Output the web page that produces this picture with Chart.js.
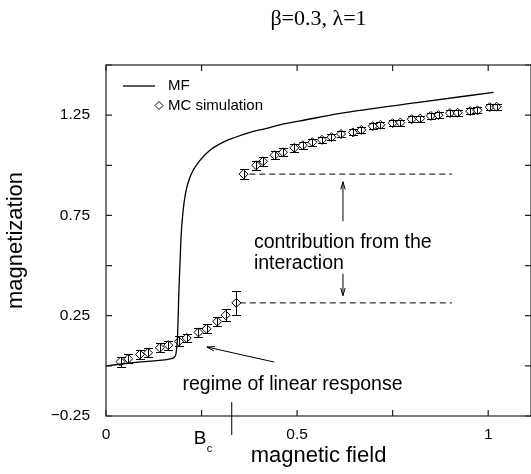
<!DOCTYPE html>
<html>
<head>
<meta charset="utf-8">
<script src="https://cdn.jsdelivr.net/npm/chart.js@4.4.1/dist/chart.umd.min.js"></script>
<style>
  html, body { margin: 0; padding: 0; background: #fff; }
</style>
</head>
<body>
<canvas id="myChart" width="531" height="474"></canvas>
<script>
// mean field curve
const mfField = [0, 0.09, 0.168, 0.178, 0.183, 0.187, 0.191, 0.196, 0.201, 0.208, 0.22, 0.246, 0.272, 0.298, 0.333, 0.377, 0.42, 0.455, 0.508, 0.613, 0.813, 1.014];
const mfMag   = [0, 0.02, 0.035, 0.042, 0.06, 0.14, 0.385, 0.63, 0.76, 0.86, 0.943, 1.025, 1.075, 1.107, 1.136, 1.164, 1.184, 1.202, 1.221, 1.259, 1.312, 1.364];

// Monte Carlo points with error bars
const mcField = [0.038, 0.058, 0.089, 0.11, 0.141, 0.163, 0.191, 0.211, 0.242, 0.263, 0.291, 0.313, 0.341,
                 0.36, 0.393, 0.411, 0.441, 0.463, 0.493, 0.515, 0.54, 0.565, 0.59, 0.615, 0.646, 0.668, 0.698,
                 0.718, 0.75, 0.77, 0.8, 0.822, 0.85, 0.87, 0.9, 0.92, 0.953, 0.972, 1.004, 1.022];
const mcMag   = [0.021, 0.035, 0.057, 0.065, 0.09, 0.103, 0.122, 0.139, 0.167, 0.185, 0.221, 0.253, 0.314,
                 0.956, 1.0, 1.02, 1.05, 1.065, 1.087, 1.1, 1.115, 1.127, 1.14, 1.156, 1.164, 1.176, 1.195,
                 1.202, 1.21, 1.213, 1.23, 1.233, 1.246, 1.25, 1.26, 1.262, 1.27, 1.274, 1.29, 1.292];
const mcErr   = [0.025, 0.022, 0.022, 0.022, 0.022, 0.022, 0.025, 0.022, 0.022, 0.022, 0.022, 0.03, 0.058,
                 0.025, 0.022, 0.022, 0.02, 0.02, 0.02, 0.018, 0.018, 0.016, 0.016, 0.015, 0.015, 0.015, 0.015,
                 0.015, 0.015, 0.015, 0.015, 0.015, 0.015, 0.015, 0.015, 0.015, 0.015, 0.015, 0.015, 0.015];

// dashed reference levels
const upperDashField = [0.375, 0.905];
const upperDashMag = [0.956, 0.956];
const lowerDashField = [0.35, 0.905];
const lowerDashMag = [0.314, 0.314];

const xTicks = [0, 0.25, 0.5, 0.75, 1];
const xTickLabels = ["0", "", "0.5", "", "1"];
const yTicks = [-0.25, 0, 0.25, 0.5, 0.75, 1, 1.25, 1.5];
const yTickLabels = ["\u22120.25", "", "0.25", "", "0.75", "", "1.25", ""];
const bcField = 0.329;

const font = "'Liberation Sans', Arial, Helvetica, sans-serif";

function pts(xs, ys) { return xs.map((v, i) => ({ x: v, y: ys[i] })); }

function arrow(ctx, x1, y1, x2, y2) {
  const ang = Math.atan2(y2 - y1, x2 - x1), len = 8, sp = 0.28;
  ctx.beginPath();
  ctx.moveTo(x1, y1); ctx.lineTo(x2, y2);
  ctx.moveTo(x2 - len * Math.cos(ang - sp), y2 - len * Math.sin(ang - sp));
  ctx.lineTo(x2, y2);
  ctx.lineTo(x2 - len * Math.cos(ang + sp), y2 - len * Math.sin(ang + sp));
  ctx.stroke();
}

const decorations = {
  id: "decorations",
  afterDatasetsDraw(chart) {
    const { ctx, chartArea: a, scales: { x, y } } = chart;
    ctx.save();
    ctx.strokeStyle = "#000";
    ctx.fillStyle = "#000";
    ctx.lineWidth = 1;

    // error bars
    mcField.forEach((f, i) => {
      const px = Math.round(x.getPixelForValue(f)) + 0.5;
      const t = Math.round(y.getPixelForValue(mcMag[i] + mcErr[i])) + 0.5;
      const b = Math.round(y.getPixelForValue(mcMag[i] - mcErr[i])) + 0.5;
      ctx.beginPath();
      ctx.moveTo(px, t); ctx.lineTo(px, b);
      ctx.moveTo(px - 4.5, t); ctx.lineTo(px + 4.5, t);
      ctx.moveTo(px - 4.5, b); ctx.lineTo(px + 4.5, b);
      ctx.stroke();
    });

    // frame and inward ticks
    ctx.strokeStyle = "#222";
    ctx.lineWidth = 1.2;
    ctx.strokeRect(a.left, a.top, a.right - a.left, a.bottom - a.top);
    ctx.beginPath();
    xTicks.forEach(v => {
      const px = x.getPixelForValue(v);
      ctx.moveTo(px, a.bottom); ctx.lineTo(px, a.bottom - 6);
      ctx.moveTo(px, a.top); ctx.lineTo(px, a.top + 6);
    });
    yTicks.forEach(v => {
      const py = y.getPixelForValue(v);
      ctx.moveTo(a.left, py); ctx.lineTo(a.left + 6, py);
      ctx.moveTo(a.right, py); ctx.lineTo(a.right - 6, py);
    });
    ctx.stroke();

    // B_c marker
    ctx.strokeStyle = "#000";
    ctx.lineWidth = 1;
    const bx = x.getPixelForValue(bcField);
    ctx.beginPath();
    ctx.moveTo(bx, a.bottom - 14); ctx.lineTo(bx, a.bottom + 19);
    ctx.stroke();
    ctx.textBaseline = "middle";
    ctx.textAlign = "left";
    ctx.font = "19px " + font;
    ctx.fillText("B", bx - 38, a.bottom + 23);
    ctx.font = "11px " + font;
    ctx.fillText("c", bx - 25, a.bottom + 33);

    // annotations
    ctx.font = "19.5px " + font;
    ctx.fillText("contribution from the", x.getPixelForValue(0.387), y.getPixelForValue(0.616));
    ctx.fillText("interaction", x.getPixelForValue(0.387), y.getPixelForValue(0.508));
    ctx.textAlign = "center";
    ctx.fillText("regime of linear response", x.getPixelForValue(0.488), y.getPixelForValue(-0.093));

    arrow(ctx, x.getPixelForValue(0.62), y.getPixelForValue(0.721), x.getPixelForValue(0.62), y.getPixelForValue(0.918));
    arrow(ctx, x.getPixelForValue(0.62), y.getPixelForValue(0.459), x.getPixelForValue(0.62), y.getPixelForValue(0.35));
    arrow(ctx, x.getPixelForValue(0.44), y.getPixelForValue(0.019), x.getPixelForValue(0.264), y.getPixelForValue(0.094));

    // legend
    const lx = a.left, ly = a.top;
    ctx.lineWidth = 1.3;
    ctx.beginPath();
    ctx.moveTo(lx + 17, ly + 21); ctx.lineTo(lx + 49, ly + 21);
    ctx.stroke();
    ctx.lineWidth = 1;
    ctx.beginPath();
    ctx.moveTo(lx + 53, ly + 36.5); ctx.lineTo(lx + 57, ly + 40.5);
    ctx.lineTo(lx + 53, ly + 44.5); ctx.lineTo(lx + 49, ly + 40.5);
    ctx.closePath();
    ctx.stroke();
    ctx.textAlign = "left";
    ctx.font = "15px " + font;
    ctx.fillText("MF", lx + 62, ly + 21);
    ctx.fillText("MC simulation", lx + 62, ly + 41);
    ctx.restore();
  }
};

new Chart(document.getElementById("myChart"), {
  type: "scatter",
  data: {
    datasets: [
      {
        label: "MF",
        type: "line",
        data: pts(mfField, mfMag),
        borderColor: "#000",
        borderWidth: 1.3,
        pointRadius: 0,
        cubicInterpolationMode: "monotone",
        fill: false
      },
      {
        label: "MC simulation",
        data: pts(mcField, mcMag),
        pointStyle: "rectRot",
        pointRadius: 4.5,
        pointBorderWidth: 1,
        pointBorderColor: "#000",
        pointBackgroundColor: "rgba(255,255,255,0.6)"
      },
      {
        label: "upper level",
        type: "line",
        data: pts(upperDashField, upperDashMag),
        borderColor: "#000",
        borderWidth: 1,
        borderDash: [6, 4],
        pointRadius: 0
      },
      {
        label: "lower level",
        type: "line",
        data: pts(lowerDashField, lowerDashMag),
        borderColor: "#000",
        borderWidth: 1,
        borderDash: [6, 4],
        pointRadius: 0
      }
    ]
  },
  options: {
    responsive: false,
    animation: false,
    layout: { autoPadding: false, padding: { left: 0, right: -1, top: 0, bottom: 3 } },
    plugins: {
      legend: { display: false },
      tooltip: { enabled: false },
      title: {
        display: true,
        text: "\u03b2=0.3, \u03bb=1",
        fullSize: false,
        color: "#000",
        font: { family: "'Liberation Serif', 'Times New Roman', serif", size: 22, weight: "normal" },
        padding: { top: 6, bottom: 32.6 }
      }
    },
    scales: {
      x: {
        type: "linear",
        min: 0,
        max: 1.112,
        afterBuildTicks: s => { s.ticks = xTicks.map(v => ({ value: v })); },
        afterFit: s => { s.height = 55; s.paddingRight = 0; },
        grid: { display: false, drawTicks: false },
        border: { display: false },
        ticks: {
          padding: 9,
          color: "#000",
          font: { family: font, size: 15.5 },
          callback: (v, i) => xTickLabels[i]
        },
        title: {
          display: true,
          text: "magnetic field",
          color: "#000",
          font: { family: font, size: 22 },
          padding: { top: 0, bottom: 2 }
        }
      },
      y: {
        type: "linear",
        min: -0.25,
        max: 1.5,
        afterBuildTicks: s => { s.ticks = yTicks.map(v => ({ value: v })); },
        afterFit: s => { s.width = 106; s.paddingTop = 0; s.paddingBottom = 0; },
        grid: { display: false, drawTicks: false },
        border: { display: false },
        ticks: {
          padding: 16,
          color: "#000",
          font: { family: font, size: 15.5 },
          callback: (v, i) => yTickLabels[i]
        },
        title: {
          display: true,
          text: "magnetization",
          color: "#000",
          font: { family: font, size: 22 },
          padding: { top: 3, bottom: 0 }
        }
      }
    }
  },
  plugins: [decorations]
});
</script>
</body>
</html>
